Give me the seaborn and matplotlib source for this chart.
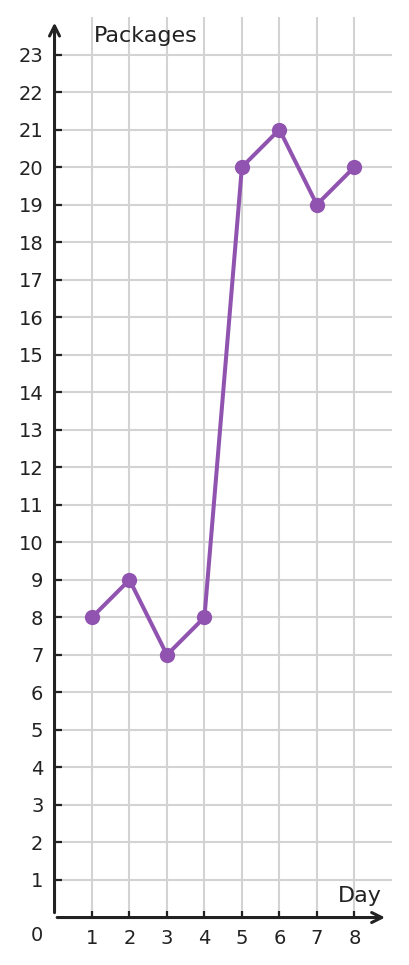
import matplotlib
matplotlib.use('agg')
import matplotlib.pyplot as plt
import seaborn as sns
import pandas as pd

days = [1, 2, 3, 4, 5, 6, 7, 8]
packages = [8, 9, 7, 8, 20, 21, 19, 20]

sns.set_style('white')
plt.rcParams['font.family'] = ['DejaVu Sans']

ink = '#222222'
purple = '#9054b0'

df = pd.DataFrame({'Day': days, 'Packages': packages})

fig = plt.figure(figsize=(4.09, 9.65), dpi=100)
ax = fig.add_axes([0.1333, 0.0492, 0.958 - 0.1333, 0.9824 - 0.0492])

sns.lineplot(data=df, x='Day', y='Packages', ax=ax, color=purple,
             linewidth=2.9, marker='o', markersize=11,
             markeredgewidth=0, zorder=5)

ax.set_xlim(0, 9)
ax.set_ylim(0, 24)
ax.set_xticks(days)
ax.set_yticks(range(1, 24))
ax.grid(True, color='#d3d3d3', linewidth=1.5, zorder=0)
ax.set_axisbelow(True)
for s in ax.spines.values():
    s.set_visible(False)

ax.tick_params(left=True, bottom=True, direction='in', length=5,
               width=1.6, color=ink, labelcolor=ink, labelsize=14, pad=8)
ax.set_xlabel('')
ax.set_ylabel('')

# axis arrows
ax.annotate('', xy=(0, 23.85), xytext=(0, 0.13),
            arrowprops=dict(arrowstyle='->', color=ink, lw=2.2,
                            mutation_scale=18, shrinkA=0, shrinkB=0),
            annotation_clip=False)
ax.annotate('', xy=(8.82, 0), xytext=(0.07, 0),
            arrowprops=dict(arrowstyle='->', color=ink, lw=2.2,
                            mutation_scale=18, shrinkA=0, shrinkB=0),
            annotation_clip=False)

ax.text(-0.47, -0.47, '0', ha='center', va='center', fontsize=14,
        color=ink, clip_on=False)
ax.text(1.05, 23.5, 'Packages', ha='left', va='center', fontsize=16,
        color=ink)
ax.text(8.73, 0.57, 'Day', ha='right', va='center', fontsize=16,
        color=ink)

fig.savefig('out.png', dpi=100)
